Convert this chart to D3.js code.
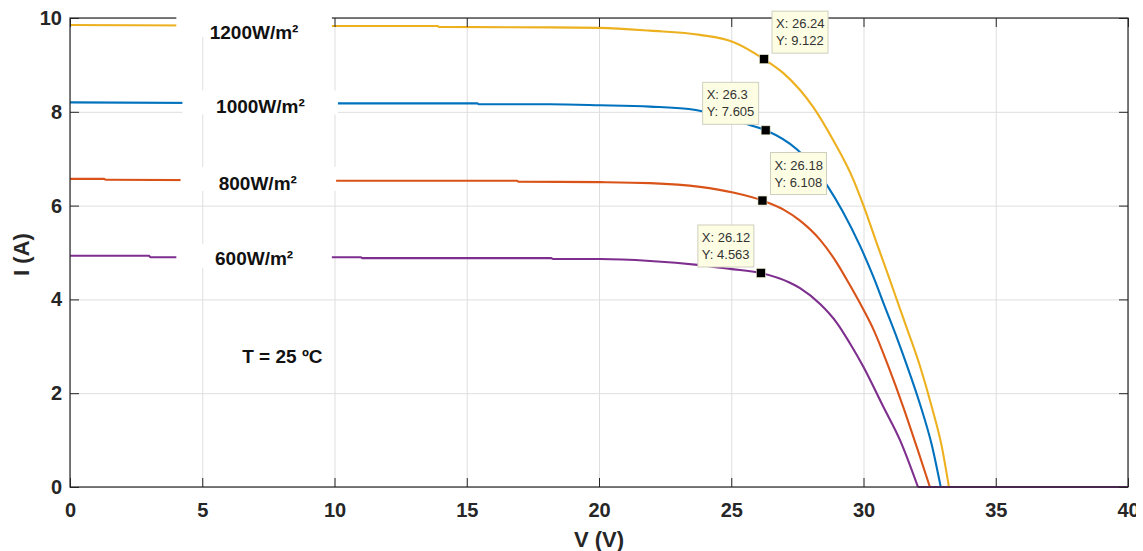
<!DOCTYPE html>
<html><head><meta charset="utf-8">
<script src="https://cdn.jsdelivr.net/npm/d3@7"></script>
<style>
body{margin:0;background:#fff}
svg{display:block;overflow:hidden}
text{font-family:"Liberation Sans",Arial,Helvetica,sans-serif}
</style>
</head><body>
<svg id="c" width="1136" height="551"></svg>
<script>
// ---------------- data ----------------
const seriesLabels = ["1200W/m²", "1000W/m²", "800W/m²", "600W/m²"];

const v1200 = [0, 10, 13.9, 13.95, 18.15, 20.04, 21.93, 23.82, 25.07, 26.24, 26.96, 28.1, 28.85, 29.62, 30.0, 30.55, 31.0, 31.38, 31.63, 32.14, 32.58, 32.96, 33.23, 40];
const i1200 = [9.85, 9.83, 9.83, 9.81, 9.80, 9.79, 9.73, 9.64, 9.49, 9.122, 8.83, 8.10, 7.40, 6.55, 6.0, 5.12, 4.41, 3.80, 3.40, 2.57, 1.71, 0.86, 0, 0];

const v1000 = [0, 10, 15.4, 15.45, 18.15, 20.04, 21.93, 23.4, 24.6, 25.7, 26.3, 27.5, 28.1, 28.66, 29.22, 29.87, 30.36, 30.81, 31.27, 31.63, 32.14, 32.58, 32.92, 40];
const i1000 = [8.20, 8.18, 8.18, 8.16, 8.16, 8.14, 8.11, 8.06, 7.92, 7.72, 7.605, 7.19, 6.84, 6.40, 5.87, 5.14, 4.50, 3.84, 3.17, 2.61, 1.76, 0.90, 0, 0];

const v800 = [0, 1.29, 1.34, 10, 16.9, 16.95, 20.04, 21.93, 23.82, 25.07, 26.18, 26.96, 27.6, 28.36, 28.99, 29.49, 29.98, 30.4, 30.94, 31.5, 32.01, 32.51, 40];
const i800 = [6.57, 6.57, 6.55, 6.53, 6.53, 6.51, 6.50, 6.48, 6.40, 6.28, 6.108, 5.92, 5.68, 5.27, 4.78, 4.30, 3.80, 3.33, 2.57, 1.71, 0.86, 0, 0];

const v600 = [0, 2.99, 3.04, 11.0, 11.05, 18.2, 18.25, 20.04, 21.93, 23.82, 24.95, 26.12, 27.2, 27.6, 28.36, 28.99, 29.49, 29.99, 30.75, 31.38, 32.06, 40];
const i600 = [4.93, 4.93, 4.90, 4.90, 4.88, 4.88, 4.86, 4.86, 4.82, 4.73, 4.65, 4.563, 4.36, 4.24, 3.90, 3.50, 3.06, 2.57, 1.71, 1.0, 0, 0];

const tipV = [26.24, 26.3, 26.18, 26.12];
const tipI = [9.122, 7.605, 6.108, 4.563];

const xTicks = [0, 5, 10, 15, 20, 25, 30, 35, 40];
const yTicks = [0, 2, 4, 6, 8, 10];
const xTitle = "V (V)";
const yTitle = "I (A)";
const tempLabel = "T = 25 ºC";

// ---------------- layout ----------------
const L = 70, R = 1128, T = 18, B = 487;
const colors = ["#EDB120", "#0072BD", "#D95319", "#7E2F8E"];
const drawOrder = [1, 2, 0, 3];
const boxStartV = [4.02, 4.25, 4.18, 4.02];
const boxEndV = [9.9, 10.13, 10.06, 9.9];
const labelCenterV = [6.96, 7.2, 7.1, 6.96];
const labelDy = [14, 11, 11, 9];

const svg = d3.select("#c");
const x = d3.scaleLinear().domain([0, 40]).range([L, R]);
const y = d3.scaleLinear().domain([0, 10]).range([B, T]);

const series = [
  v1200.map((v, k) => [v, i1200[k]]),
  v1000.map((v, k) => [v, i1000[k]]),
  v800.map((v, k) => [v, i800[k]]),
  v600.map((v, k) => [v, i600[k]])
];

// grid
const grid = svg.append("g");
grid.append("g").attr("transform", `translate(0,${B})`)
  .call(d3.axisBottom(x).tickValues(xTicks).tickSize(-(B - T)).tickFormat(""))
  .call(g => g.select(".domain").remove())
  .call(g => g.selectAll("line").attr("stroke", "#dedede").attr("stroke-width", 1));
grid.append("g").attr("transform", `translate(${L},0)`)
  .call(d3.axisLeft(y).tickValues(yTicks).tickSize(-(R - L)).tickFormat(""))
  .call(g => g.select(".domain").remove())
  .call(g => g.selectAll("line").attr("stroke", "#dedede").attr("stroke-width", 1));

// lines: smooth part up to Voc, straight zero part after
const curveLine = d3.line().x(d => x(d[0])).y(d => y(d[1])).curve(d3.curveMonotoneX);
const flatLine = d3.line().x(d => x(d[0])).y(d => y(d[1]));
drawOrder.forEach(s => {
  const pts = series[s];
  const k = pts.findIndex(p => p[1] === 0);
  const g = svg.append("g").attr("fill", "none").attr("stroke", colors[s])
    .attr("stroke-width", 2.1).attr("stroke-linejoin", "round");
  g.append("path").datum(pts.slice(0, k + 1)).attr("d", curveLine);
  g.append("path").datum(pts.slice(k)).attr("d", flatLine);
});

// axes
const axCol = "#262626";
function styleAxis(g) {
  g.select(".domain").remove();
  g.selectAll("line").attr("stroke", axCol).attr("stroke-width", 1);
  g.selectAll("text").attr("fill", axCol).attr("font-size", 20).attr("font-weight", "bold")
    .style("font-family", '"Liberation Sans", Arial, sans-serif');
}
svg.append("g").attr("transform", `translate(0,${B})`)
  .call(d3.axisBottom(x).tickValues(xTicks).tickSize(-9).tickPadding(16).tickFormat(d3.format("d")))
  .call(styleAxis);
svg.append("g").attr("transform", `translate(${L},0)`)
  .call(d3.axisLeft(y).tickValues(yTicks).tickSize(-9).tickPadding(8).tickFormat(d3.format("d")))
  .call(styleAxis);
svg.append("g").attr("transform", `translate(0,${T})`)
  .call(d3.axisTop(x).tickValues(xTicks).tickSize(-9).tickFormat(""))
  .call(styleAxis);
svg.append("g").attr("transform", `translate(${R},0)`)
  .call(d3.axisRight(y).tickValues(yTicks).tickSize(-9).tickFormat(""))
  .call(styleAxis);
svg.append("rect").attr("x", L).attr("y", T).attr("width", R - L).attr("height", B - T)
  .attr("fill", "none").attr("stroke", axCol).attr("stroke-width", 1.2);

// label boxes (white) and labels
seriesLabels.forEach((lab, s) => {
  const yl = y(series[s][0][1]);
  svg.append("rect")
    .attr("x", x(boxStartV[s])).attr("y", yl - 12)
    .attr("width", x(boxEndV[s]) - x(boxStartV[s])).attr("height", 24)
    .attr("fill", "#fff");
});
seriesLabels.forEach((lab, s) => {
  const yl = y(series[s][0][1]);
  svg.append("text").attr("x", x(labelCenterV[s])).attr("y", yl + labelDy[s])
    .attr("text-anchor", "middle").attr("font-size", 19).attr("font-weight", "bold")
    .attr("fill", "#111").text(lab);
});
svg.append("text").attr("x", x(8.03)).attr("y", y(2.64))
  .attr("text-anchor", "middle").attr("font-size", 19).attr("font-weight", "bold")
  .attr("fill", "#111").text(tempLabel);

// axis titles
svg.append("text").attr("x", x(20)).attr("y", 547).attr("text-anchor", "middle")
  .attr("font-size", 22).attr("font-weight", "bold").attr("fill", axCol).text(xTitle);
svg.append("text").attr("transform", `translate(29,${(T + B) / 2 + 2}) rotate(-90)`)
  .attr("text-anchor", "middle").attr("font-size", 22).attr("font-weight", "bold")
  .attr("fill", axCol).text(yTitle);

// data tips
tipV.forEach((v, s) => {
  const px = x(v), py = y(tipI[s]);
  const bw = 56, bh = 42;
  const bx = (s % 2 === 0) ? px + 8 : px - 7 - bw;
  const by = py - 48;
  svg.append("rect").attr("x", bx).attr("y", by).attr("width", bw).attr("height", bh)
    .attr("fill", "#fdfde4").attr("stroke", "#cfcfbf").attr("stroke-width", 1);
  svg.append("text").attr("x", bx + 4).attr("y", by + 17).attr("font-size", 13)
    .attr("fill", "#333").text("X: " + v);
  svg.append("text").attr("x", bx + 4).attr("y", by + 34).attr("font-size", 13)
    .attr("fill", "#333").text("Y: " + tipI[s]);
  svg.append("rect").attr("x", px - 4.5).attr("y", py - 4.5).attr("width", 9).attr("height", 9)
    .attr("fill", "#000").attr("stroke", "#e8e8c8").attr("stroke-width", 0.6);
});
</script>
</body></html>
